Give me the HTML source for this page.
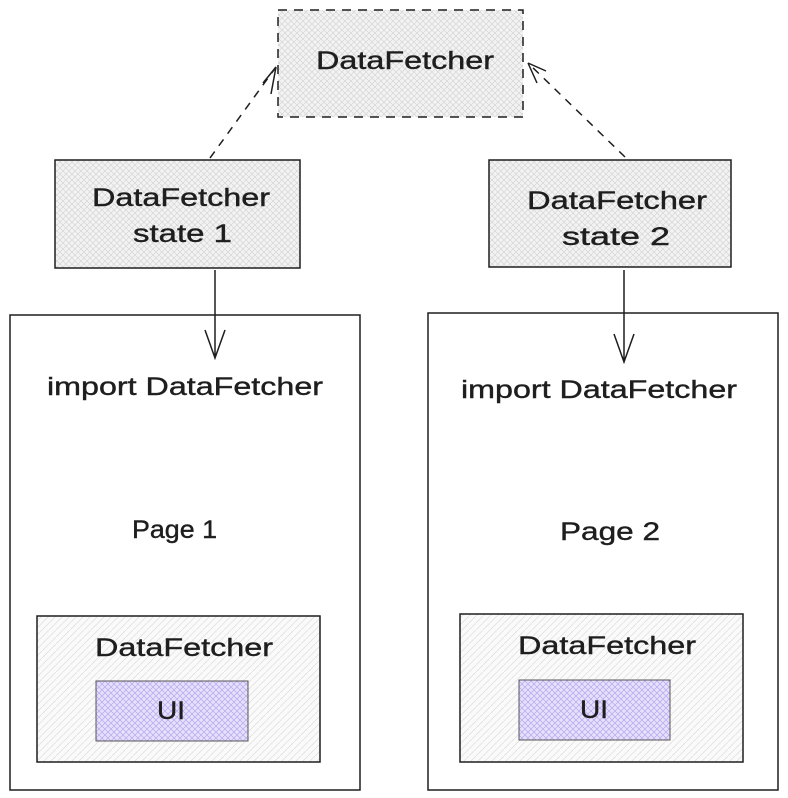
<!DOCTYPE html>
<html><head><meta charset="utf-8"><style>
html,body{margin:0;padding:0;background:#fff;}
svg{display:block;}
text{font-family:"Liberation Sans",sans-serif;font-size:25px;fill:#1e1e1e;stroke:#1e1e1e;stroke-width:0.4;lengthAdjust:spacingAndGlyphs;}
</style></head><body>
<svg width="788" height="798" viewBox="0 0 788 798" xmlns="http://www.w3.org/2000/svg">
<defs>
<pattern id="g" width="6" height="6" patternUnits="userSpaceOnUse">
<rect width="6" height="6" fill="#f3f3f3"/>
<path d="M0 6L6 0M0 0L6 6" stroke="#d4d4d4" stroke-width="0.7"/>
</pattern>
<pattern id="d" width="7" height="7" patternUnits="userSpaceOnUse">
<rect width="7" height="7" fill="#fafafa"/>
<path d="M0 7L7 0" stroke="#dcdcdc" stroke-width="0.7"/>
</pattern>
<pattern id="p" width="6" height="6" patternUnits="userSpaceOnUse">
<rect width="6" height="6" fill="#e6e0fb"/>
<path d="M0 6L6 0M0 0L6 6" stroke="#b5a8ef" stroke-width="0.7"/>
</pattern>
</defs>
<g stroke="#1e1e1e" stroke-width="1.5" fill="none">
<rect x="278" y="10" width="245" height="107" fill="url(#g)" stroke-dasharray="9 7"/>
<rect x="55" y="160" width="245" height="108" fill="url(#g)"/>
<rect x="489" y="160" width="242" height="107" fill="url(#g)"/>
<rect x="10" y="315" width="350" height="475"/>
<rect x="428" y="313" width="350" height="477"/>
<rect x="37" y="616" width="283" height="146" fill="url(#d)"/>
<rect x="460" y="614" width="283" height="148" fill="url(#d)"/>
<rect x="96" y="681" width="152" height="60" fill="url(#p)" stroke="#555" stroke-width="1"/>
<rect x="519" y="680" width="151" height="60" fill="url(#p)" stroke="#555" stroke-width="1"/>
<path d="M210 158L276 67" stroke-dasharray="8 7"/>
<path d="M263 83L276 67M271 94L276 67" />
<path d="M625 157L528 63" stroke-dasharray="8 7"/>
<path d="M546 71L528 63M537 83L528 63"/>
<path d="M215 270L215 358M205 330L215 358L225 330"/>
<path d="M624 270L624 362M614 334L624 362L634 334"/>
</g>
<text x="316" y="69" textLength="178" lengthAdjust="spacingAndGlyphs">DataFetcher</text>
<text x="92" y="206" textLength="178" lengthAdjust="spacingAndGlyphs">DataFetcher</text>
<text x="133" y="242" textLength="99" lengthAdjust="spacingAndGlyphs">state 1</text>
<text x="527" y="209" textLength="180" lengthAdjust="spacingAndGlyphs">DataFetcher</text>
<text x="562" y="245" textLength="108" lengthAdjust="spacingAndGlyphs">state 2</text>
<text x="47" y="395" textLength="276" lengthAdjust="spacingAndGlyphs">import DataFetcher</text>
<text x="461" y="398" textLength="276" lengthAdjust="spacingAndGlyphs">import DataFetcher</text>
<text x="132" y="538" textLength="85" lengthAdjust="spacingAndGlyphs">Page 1</text>
<text x="560" y="540" textLength="100" lengthAdjust="spacingAndGlyphs">Page 2</text>
<text x="95" y="656" textLength="178" lengthAdjust="spacingAndGlyphs">DataFetcher</text>
<text x="518" y="654" textLength="178" lengthAdjust="spacingAndGlyphs">DataFetcher</text>
<text x="157" y="719" textLength="28" lengthAdjust="spacingAndGlyphs">UI</text>
<text x="580" y="718" textLength="28" lengthAdjust="spacingAndGlyphs">UI</text>
</svg>
</body></html>
